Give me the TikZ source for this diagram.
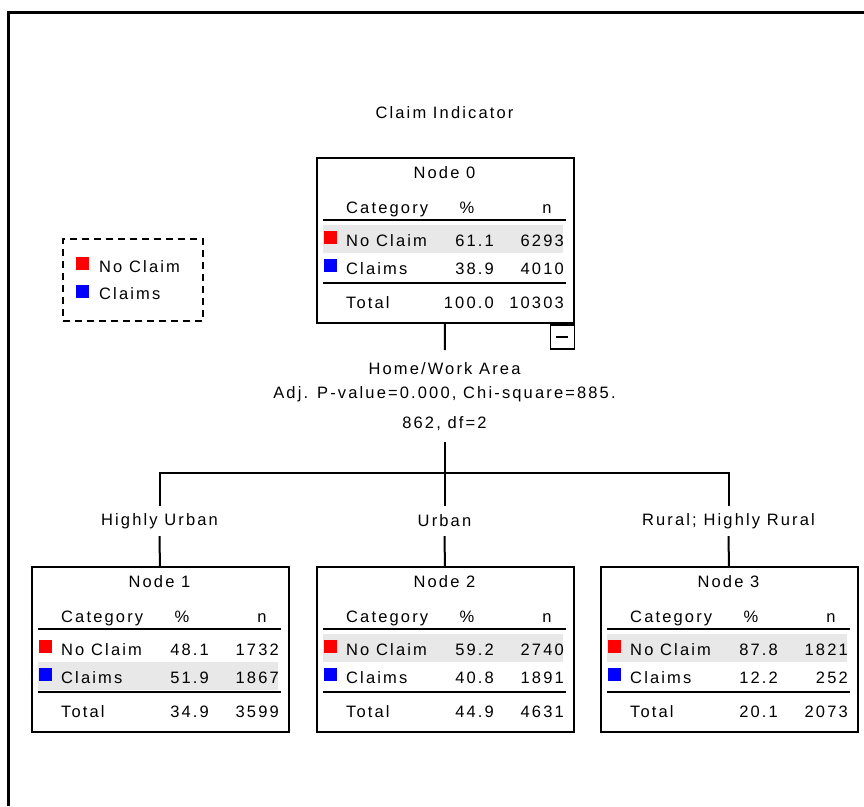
\documentclass[tikz,border=0pt]{standalone}
\usepackage{fontspec}
\setmainfont[LetterSpace=13]{Liberation Sans}
\usetikzlibrary{calc, positioning}
\definecolor{claimred}{RGB}{255,0,0}
\definecolor{claimblue}{RGB}{0,0,255}
\definecolor{rowgray}{RGB}{232,232,232}

% one node of the tree: name, north west corner, title, shaded row
\newcommand{\treebox}[4]{%
  \node[nodebox, anchor=north west] (#1) at (#2) {};
  \fill[rowgray] ($(#1.north west)+(7,#4*28+40)$) rectangle ++(240,28);
  \fill[claimred] ($(#1.north west)+(8,74)$) rectangle ++(13,13);
  \fill[claimblue] ($(#1.north west)+(8,102)$) rectangle ++(13,13);
  \node[txt, anchor=base] (#1-title) at ($(#1.north west)+(128.5,21)$) {#3};
  \node[txt, anchor=base west] (#1-cat) at ($(#1.north west)+(30,56)$) {Category};
  \node[txt, anchor=base] (#1-pct) at ($(#1.north west)+(151,56)$) {\%};
  \node[txt, anchor=base] (#1-n) at ($(#1.north west)+(231,56)$) {n};
  \draw[rule] ($(#1.north west)+(7,62.5)$) -- ++(243,0);
  \draw[rule] ($(#1.north west)+(7,125.5)$) -- ++(243,0);
}
% one row of a node: box, key, baseline offset, label, percent, count
\newcommand{\catrow}[6]{%
  \node[txt, anchor=base west] (#1-#2-l) at ($(#1.north west)+(30,#3)$) {#4};
  \node[txt, anchor=base east] (#1-#2-p) at ($(#1.north west)+(178,#3)$) {#5};
  \node[txt, anchor=base east] (#1-#2-n) at ($(#1.north west)+(248,#3)$) {#6};
}

\begin{document}
\begin{tikzpicture}[
  x=1pt, y=-1pt,
  txt/.style={font=\fontsize{16.5}{19}\selectfont, inner sep=0pt},
  nodebox/.style={draw, line width=2pt, minimum width=257pt,
                  minimum height=165pt, inner sep=0pt},
  rule/.style={line width=2pt},
  tree/.style={line width=2pt},
  legendbox/.style={draw, line width=2pt, dash pattern=on 7pt off 5pt,
                    minimum width=140pt, minimum height=82pt, inner sep=0pt}
]
\useasboundingbox (0,0) rectangle (864,806);
\draw[line width=3pt] (8,806) |- (864,12);

\node[txt, anchor=base] (title) at (444.5,118) {Claim Indicator};

% legend
\node[legendbox] (legend) at (133,280) {};
\fill[claimred] ($(legend.north west)+(14,19)$) rectangle ++(13,13);
\fill[claimblue] ($(legend.north west)+(14,47)$) rectangle ++(13,13);
\node[txt, anchor=base west] (lg-a) at ($(legend.north west)+(37,34)$) {No Claim};
\node[txt, anchor=base west] (lg-b) at ($(legend.north west)+(37,61)$) {Claims};

\treebox{n0}{316,157}{Node 0}{1}
\catrow{n0}{a}{89}{No Claim}{61.1}{6293}
\catrow{n0}{b}{117}{Claims}{38.9}{4010}
\catrow{n0}{t}{151}{Total}{100.0}{10303}
\node[draw, line width=1.5pt, minimum size=24pt, inner sep=0pt,
      anchor=north east] (n0-c) at (n0.south east) {};
\draw[line width=1.5pt] ($(n0-c.center)+(-6,0)$) -- ++(12,0);

\node[txt, align=center, font=\fontsize{16.5}{24}\selectfont, inner ysep=12pt,
      anchor=north] (split) at (444.5,350)
  {Home/Work Area\\ Adj. P-value=0.000, Chi-square=885.\\[6pt] 862, df=2};
\coordinate (bar) at (444.5,473);

\node[txt, minimum height=30pt] (l1) at (159.5,521) {Highly Urban};
\node[txt, minimum height=30pt] (l2) at (444.5,521) {Urban};
\node[txt, minimum height=30pt] (l3) at (728.5,521) {Rural; Highly Rural};

\treebox{n1}{31,566}{Node 1}{2}
\catrow{n1}{a}{89}{No Claim}{48.1}{1732}
\catrow{n1}{b}{117}{Claims}{51.9}{1867}
\catrow{n1}{t}{151}{Total}{34.9}{3599}

\treebox{n2}{316,566}{Node 2}{1}
\catrow{n2}{a}{89}{No Claim}{59.2}{2740}
\catrow{n2}{b}{117}{Claims}{40.8}{1891}
\catrow{n2}{t}{151}{Total}{44.9}{4631}

\treebox{n3}{600,566}{Node 3}{1}
\catrow{n3}{a}{89}{No Claim}{87.8}{1821}
\catrow{n3}{b}{117}{Claims}{12.2}{252}
\catrow{n3}{t}{151}{Total}{20.1}{2073}

\draw[tree] (n0) -- (split);
\draw[tree] (split) -- (bar);
\draw[tree] (l1.north) |- (bar) -| (l3.north);
\draw[tree] (bar) -- (l2);
\draw[tree] (l1) -- (n1);
\draw[tree] (l2) -- (n2);
\draw[tree] (l3) -- (n3);

\end{tikzpicture}
\end{document}
